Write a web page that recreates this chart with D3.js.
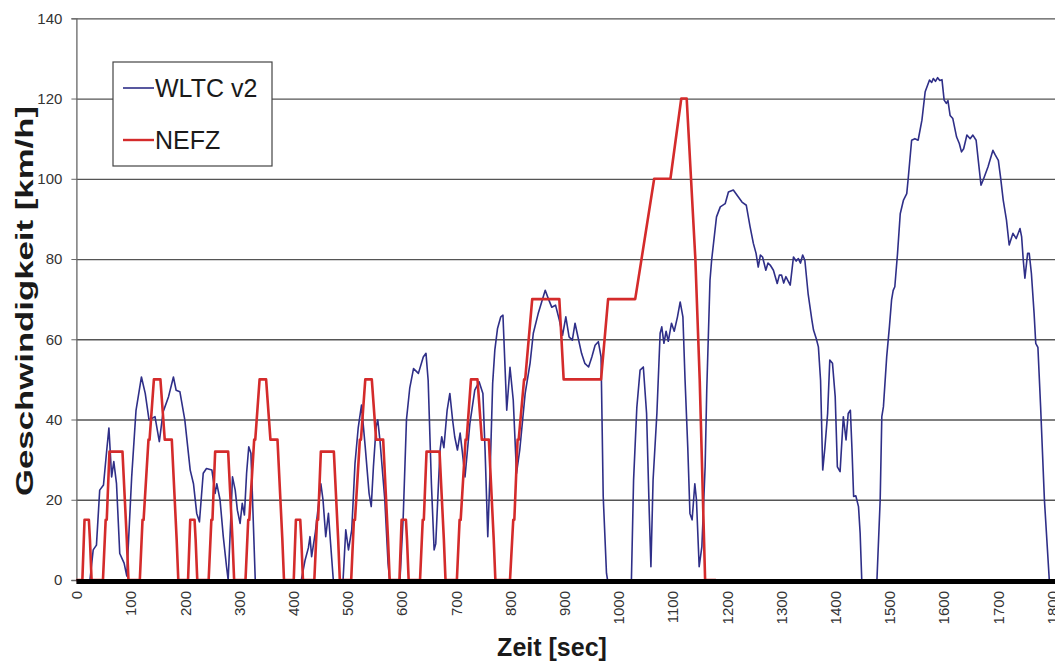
<!DOCTYPE html>
<html>
<head>
<meta charset="utf-8">
<script src="https://cdn.jsdelivr.net/npm/d3@7"></script>
<style>
  body { margin: 0; background: #fff; }
  svg { display: block; font-family: "Liberation Sans", Arial, sans-serif; }
</style>
</head>
<body>
<svg id="chart" width="1055" height="661"></svg>
<script>
// tick values
var xTicks = [0, 100, 200, 300, 400, 500, 600, 700, 800, 900, 1000, 1100, 1200, 1300, 1400, 1500, 1600, 1700, 1800];
var yTicks = [0, 20, 40, 60, 80, 100, 120, 140];
var seriesNames = ['WLTC v2', 'NEFZ'];

// WLTC v2 speed trace [sec, km/h]
var wltcPoints = [
  [0,0],[25,0],[31,7.5],[37,8.7],[43,22.4],[50,23.7],[56,32.4],[60,37.9],[65,25.7],[69,29.5],[74,24],[80,6.6],[88,4.2],[93,1],
  [102,25.7],[110,42.3],[120,50.6],[127,46.5],[134,39.9],[145,40.7],[153,34.5],[160,41.9],[170,45.7],[179,50.6],[184,47.3],[191,46.9],
  [200,39.9],[210,27.4],[216,24],[222,16.6],[227,14.5],[234,26.6],[240,27.8],[250,27.4],[256,21.6],[259,24],[265,20],[271,10.8],[277,3.3],[280,0],
  [285,15.8],[288,25.7],[293,22.4],[297,17.4],[302,14.1],[306,19.1],[310,16.2],[314,26.6],[318,33.2],[322,31.6],[325,20],[330,0],
  [415,0],[422,5],[428,8],[431,10.8],[434,5.8],[441,12],[451,24],[455,20],[460,10.8],[465,16.6],[469,9.1],[474,0],
  [492,0],[497,12.5],[502,7.5],[508,12.5],[514,29],[520,38],[526,43.6],[533,33],[540,21.6],[544,18.3],[548,28.2],[553,38.2],[556,39.9],[560,34.9],[569,20],[575,4.2],[578,0],
  [597,0],[603,15.8],[609,40],[615,47.8],[622,52.7],[631,51.5],[640,55.6],[645,56.5],[649,49.8],[655,24],[660,7.5],[663,9],[668,24],[671,32.4],[674,35.7],[678,33],
  [684,42.3],[689,46.5],[694,40],[698,35.7],[703,32.4],[708,36.6],[712,32],[717,25.7],[726,39],[735,47.3],[743,49.4],[750,46.5],[754,32.4],[759,10.8],[764,30],[768,49],
  [772,57.3],[777,62.7],[783,65.6],[787,66],[794,42.3],[800,53],[806,44.8],[812,26.6],[818,32.4],[828,46.5],[837,54],[843,61.5],[852,66.4],[865,72.2],[871,70],[877,68],
  [884,68.5],[891,64.8],[897,61],[903,65.6],[909,60.6],[915,59.8],[920,64],[926,60.2],[932,56.5],[938,54],[945,53.1],[951,55.6],[957,58.5],[963,59.4],[968,55.6],[972,20.8],[978,1.7],[980,0],
  [1024,0],[1028,24.9],[1034,43],[1040,52.3],[1046,53.1],[1052,41.5],[1057,16.6],[1060,3.3],[1064,25],[1071,41.5],[1077,61.5],[1080,63.1],[1084,59],[1088,62],[1092,59.5],[1098,64],
  [1103,62],[1109,65.6],[1114,69.3],[1119,65.6],[1123,49.8],[1128,33],[1132,16.6],[1136,15],[1141,24],[1144,20],[1149,3.3],[1154,8.3],[1160,28.2],[1163,47.3],[1169,74.7],[1172,79.7],
  [1181,90.5],[1188,93],[1197,93.8],[1203,96.7],[1212,97.2],[1221,95.5],[1228,94.2],[1236,93.4],[1243,88],[1249,83.9],[1254,81.4],[1258,78],[1262,81],[1266,80.5],[1272,77.2],[1276,79],
  [1280,78.5],[1286,77.2],[1293,73.9],[1297,76],[1301,76],[1305,74],[1309,75.6],[1317,73.5],[1323,80.5],[1328,79.5],[1332,80.1],[1336,79],[1340,81],[1344,79.7],[1350,71.4],[1357,64.8],
  [1360,62.3],[1365,60.2],[1369,58.1],[1373,49.8],[1377,27.4],[1381,33],[1386,41.5],[1390,54.8],[1395,54],[1400,45.7],[1404,28.2],[1409,27],[1415,40.7],[1420,34.9],[1424,41.5],[1428,42.3],
  [1431,32.4],[1434,20.8],[1438,21],[1443,18.3],[1446,11.7],[1449,0],
  [1477,0],[1483,20],[1486,40.7],[1489,43.2],[1495,55.6],[1500,63.1],[1504,69.8],[1507,72.2],[1510,73.1],[1515,81.4],[1520,91.3],[1526,94.7],[1532,96.3],[1535,100.5],[1541,109.6],[1547,110],
  [1553,109.6],[1560,114.6],[1566,121.7],[1574,124.6],[1578,124],[1581,125],[1585,124.3],[1589,125.2],[1593,124.5],[1597,124.7],[1601,119.6],[1605,118.8],[1608,119.5],[1612,115.8],[1617,115],[1624,110.4],
  [1629,108.8],[1633,106.7],[1637,107.5],[1643,110.9],[1649,110],[1654,110.9],[1660,109.6],[1664,104.6],[1669,98.4],[1673,99.7],[1682,103],[1691,107.1],[1695,106],[1701,104.6],[1705,100.5],[1710,94.7],
  [1716,89.7],[1721,83.5],[1728,86.4],[1734,85.1],[1741,87.6],[1744,85.5],[1747,79.7],[1750,75.2],[1755,81.4],[1758,81.4],[1762,76.4],[1767,66.4],[1770,59],[1774,58],[1779,43.2],[1786,20],[1795,0],[1800,0]
];

// NEFZ breakpoints [sec, km/h]: four ECE blocks + EUDC
var nefzPoints = [
  [0,0],[11,0],[15,15],[23,15],[25,10],[28,0],[49,0],[54,15],[56,15],[61,32],[85,32],[93,10],[96,0],[117,0],[122,15],[124,15],[133,35],[135,35],[143,50],[155,50],[163,35],[176,35],[185,10],[188,0],
  [195,0],[206,0],[210,15],[218,15],[220,10],[223,0],[244,0],[249,15],[251,15],[256,32],[280,32],[288,10],[291,0],[312,0],[317,15],[319,15],[328,35],[330,35],[338,50],[350,50],[358,35],[371,35],[380,10],[383,0],
  [390,0],[401,0],[405,15],[413,15],[415,10],[418,0],[439,0],[444,15],[446,15],[451,32],[475,32],[483,10],[486,0],[507,0],[512,15],[514,15],[523,35],[525,35],[533,50],[545,50],[553,35],[566,35],[575,10],[578,0],
  [585,0],[596,0],[600,15],[608,15],[610,10],[613,0],[634,0],[639,15],[641,15],[646,32],[670,32],[678,10],[681,0],[702,0],[707,15],[709,15],[718,35],[720,35],[728,50],[740,50],[748,35],[761,35],[770,10],[773,0],
  [780,0],[800,0],[806,15],[808,15],[814,35],[816,35],[826,50],[828,50],[841,70],[891,70],[899,50],[968,50],[981,70],[1031,70],[1066,100],[1096,100],[1116,120],[1126,120],[1142,80],[1150,50],[1160,0],[1180,0]
];

var colors = ['#2f2f88', '#d42b2b'];

var svg = d3.select('#chart');
var plotLeft = 76.4, plotRight = 1052, plotTop = 18.3, plotBottom = 580;

var x = d3.scaleLinear().domain([0, 1800]).range([plotLeft, plotRight]);
var y = d3.scaleLinear().domain([0, 140]).range([plotBottom, plotTop]);

// horizontal grid
svg.append('g')
  .attr('transform', 'translate(' + plotLeft + ',0)')
  .call(d3.axisLeft(y).tickValues(yTicks).tickSize(-(1055 - plotLeft)).tickFormat(''))
  .call(function(g) { g.select('.domain').remove(); })
  .selectAll('line')
  .attr('stroke', '#555')
  .attr('stroke-width', 1.3);

// y axis with labels
var yAxis = svg.append('g')
  .attr('transform', 'translate(' + plotLeft + ',0)')
  .call(d3.axisLeft(y).tickValues(yTicks).tickSize(5).tickPadding(9).tickFormat(d3.format('d')));
yAxis.select('.domain').attr('stroke', '#666').attr('stroke-width', 1.3);
yAxis.selectAll('line').attr('stroke', '#666');
yAxis.selectAll('text')
  .attr('fill', '#333')
  .style('font-size', '15px');

// x axis labels rotated
var xAxis = svg.append('g')
  .attr('transform', 'translate(0,' + plotBottom + ')')
  .call(d3.axisBottom(x).tickValues(xTicks).tickSize(0).tickFormat(d3.format('d')));
xAxis.select('.domain').remove();
xAxis.selectAll('text')
  .attr('fill', '#333')
  .style('font-size', '15px')
  .attr('text-anchor', 'end')
  .attr('transform', 'rotate(-90)')
  .attr('x', -11)
  .attr('y', 0)
  .attr('dy', '0.35em');

// series lines
var line = d3.line()
  .x(function(d) { return x(d[0]); })
  .y(function(d) { return y(d[1]); });

svg.append('path')
  .datum(wltcPoints)
  .attr('d', line)
  .attr('fill', 'none')
  .attr('stroke', colors[0])
  .attr('stroke-width', 1.6)
  .attr('stroke-linejoin', 'round');

svg.append('path')
  .datum(nefzPoints)
  .attr('d', line)
  .attr('fill', 'none')
  .attr('stroke', colors[1])
  .attr('stroke-width', 2.6)
  .attr('stroke-linejoin', 'round');

// heavy zero line
svg.append('line')
  .attr('x1', plotLeft).attr('x2', 1055)
  .attr('y1', y(0) + 1.5).attr('y2', y(0) + 1.5)
  .attr('stroke', '#000')
  .attr('stroke-width', 5);

// axis titles
svg.append('text')
  .attr('transform', 'translate(33,301) rotate(-90)')
  .attr('text-anchor', 'middle')
  .attr('textLength', 390)
  .attr('lengthAdjust', 'spacingAndGlyphs')
  .style('font-size', '24px')
  .style('font-weight', 'bold')
  .attr('fill', '#1a1a1a')
  .text('Geschwindigkeit [km/h]');

svg.append('text')
  .attr('x', 552)
  .attr('y', 656)
  .attr('text-anchor', 'middle')
  .style('font-size', '25px')
  .style('font-weight', 'bold')
  .attr('fill', '#1a1a1a')
  .text('Zeit [sec]');

// legend
var legend = svg.append('g');
legend.append('rect')
  .attr('x', 113).attr('y', 62)
  .attr('width', 159).attr('height', 104)
  .attr('fill', '#fff')
  .attr('stroke', '#444')
  .attr('stroke-width', 1.2);

var items = legend.selectAll('.item')
  .data(seriesNames)
  .enter()
  .append('g')
  .attr('class', 'item')
  .attr('transform', function(d, i) { return 'translate(0,' + (88 + i * 52) + ')'; });
items.append('line')
  .attr('x1', 123).attr('x2', 154)
  .attr('stroke', function(d, i) { return colors[i]; })
  .attr('stroke-width', function(d, i) { return i ? 2.4 : 1.6; });
items.append('text')
  .attr('x', 155)
  .attr('y', 9)
  .style('font-size', '25px')
  .attr('fill', '#1a1a1a')
  .text(function(d) { return d; });
</script>
</body>
</html>
